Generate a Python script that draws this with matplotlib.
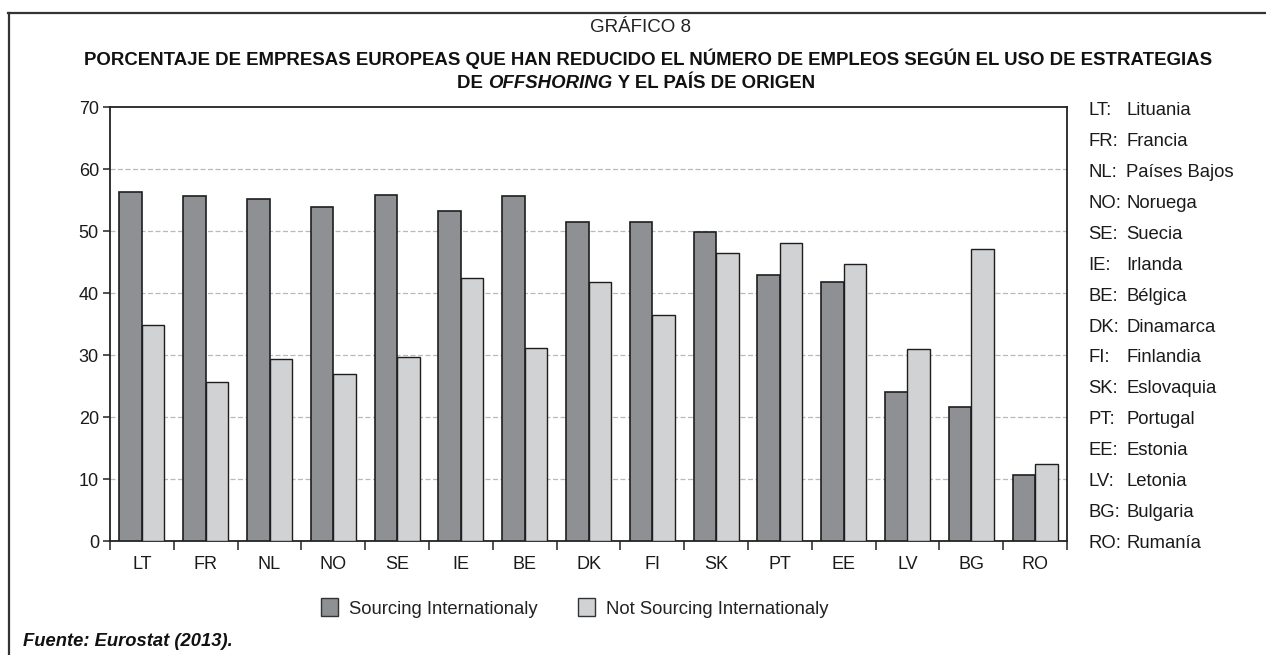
import matplotlib
matplotlib.use("Agg")
import matplotlib.pyplot as plt
import numpy as np
from matplotlib.patches import Patch
from matplotlib.lines import Line2D

plt.rcParams["font.family"] = ["Liberation Sans", "DejaVu Sans"]

# Data
countries = ["LT", "FR", "NL", "NO", "SE", "IE", "BE", "DK", "FI", "SK",
             "PT", "EE", "LV", "BG", "RO"]
country_names = ["Lituania", "Francia", "Países Bajos", "Noruega", "Suecia",
                 "Irlanda", "Bélgica", "Dinamarca", "Finlandia", "Eslovaquia",
                 "Portugal", "Estonia", "Letonia", "Bulgaria", "Rumanía"]
sourcing = [56.3, 55.6, 55.2, 53.9, 55.8, 53.2, 55.6, 51.5, 51.5, 49.9,
            42.9, 41.7, 24.1, 21.6, 10.7]
not_sourcing = [34.8, 25.6, 29.4, 26.9, 29.7, 42.5, 31.1, 41.8, 36.5, 46.5,
                48.1, 44.7, 30.9, 47.1, 12.5]
series_labels = ["Sourcing Internationaly", "Not Sourcing Internationaly"]
y_ticks = [0, 10, 20, 30, 40, 50, 60, 70]

W, H = 1266, 655
fig = plt.figure(figsize=(W / 100, H / 100), dpi=100)


def fx(px):
    return px / W


def fy(py):
    return 1 - py / H


dark = "#8f9094"
light = "#d1d2d4"
edge = "#1e1e1e"
text_size = 13.3

ax = fig.add_axes([fx(110), fy(541), fx(1067) - fx(110), fy(107) - fy(541)])
x = np.arange(len(countries))
bw = 0.354
ax.bar(x - bw / 2, sourcing, bw, color=dark, edgecolor=edge, linewidth=1.2, zorder=3)
ax.bar(x + bw / 2, not_sourcing, bw, color=light, edgecolor=edge, linewidth=1.0, zorder=3)

ax.set_xlim(-0.5, len(countries) - 0.5)
ax.set_ylim(0, 70)
ax.set_yticks(y_ticks)
ax.set_yticklabels([str(v) for v in y_ticks], fontsize=13, color="#1a1a1a")
ax.set_xticks(x)
ax.set_xticklabels(countries, fontsize=13, color="#1a1a1a")
ax.set_xticks(np.arange(-0.5, len(countries)), minor=True)
ax.tick_params(axis="x", which="major", length=0, pad=10.5)
ax.tick_params(axis="x", which="minor", length=6.5, width=1.1, color="#222222", direction="out")
ax.tick_params(axis="y", length=5, width=1.1, color="#222222", pad=3)

ax.set_axisbelow(True)
for v in y_ticks[1:-1]:
    ax.axhline(v, color="#b9b9b9", linewidth=0.9, linestyle=(0, (4, 2)), zorder=1)

for side in ["left", "right", "top", "bottom"]:
    ax.spines[side].set_color("#222222")
    ax.spines[side].set_linewidth(1.3)

# Outer frame (top and left edges)
fig.add_artist(Line2D([fx(8), 1], [fy(13), fy(13)], color="#333333", linewidth=1.6,
                      transform=fig.transFigure))
fig.add_artist(Line2D([fx(9), fx(9)], [0, fy(13)], color="#333333", linewidth=1.6,
                      transform=fig.transFigure))

# Titles
fig.text(fx(640), fy(27), "GRÁFICO 8", ha="center", va="center", fontsize=13.5, color="#222222")
fig.text(fx(648), fy(59),
         "PORCENTAJE DE EMPRESAS EUROPEAS QUE HAN REDUCIDO EL NÚMERO DE EMPLEOS SEGÚN EL USO DE ESTRATEGIAS",
         ha="center", va="center", fontsize=13.4, fontweight="bold", color="#111111")

renderer = fig.canvas.get_renderer()
parts = [("DE ", "normal"), ("OFFSHORING", "italic"), (" Y EL PAÍS DE ORIGEN", "normal")]
texts = []
for s, st in parts:
    t = fig.text(0, fy(83), s, ha="left", va="center", fontsize=13.4, fontweight="bold",
                 style=st, color="#111111")
    texts.append(t)
widths = [t.get_window_extent(renderer).width for t in texts]
total = sum(widths)
start = 636 - total / 2
for t, w in zip(texts, widths):
    t.set_x(fx(start))
    start += w

# Country key on the right
y0, step = 115, 30.93
for i, (c, n) in enumerate(zip(countries, country_names)):
    yy = fy(y0 + i * step)
    fig.text(fx(1088), yy, c + ":", ha="left", va="baseline", fontsize=text_size, color="#1a1a1a")
    fig.text(fx(1126), yy, n, ha="left", va="baseline", fontsize=text_size, color="#1a1a1a")

# Legend
handles = [Patch(facecolor=dark, edgecolor="#333333", linewidth=1.0),
           Patch(facecolor=light, edgecolor="#333333", linewidth=1.0)]
fig.legend(handles, series_labels, loc="center", bbox_to_anchor=(fx(575), fy(608)),
           ncol=2, frameon=False, fontsize=text_size, handlelength=0.9, handleheight=1.1,
           handletextpad=0.6, columnspacing=2.2, labelcolor="#222222")

# Source note
fig.text(fx(23), fy(641), "Fuente: Eurostat (2013).", ha="left", va="center",
         fontsize=13.2, fontweight="bold", style="italic", color="#111111")

fig.savefig("out.png", dpi=100)
